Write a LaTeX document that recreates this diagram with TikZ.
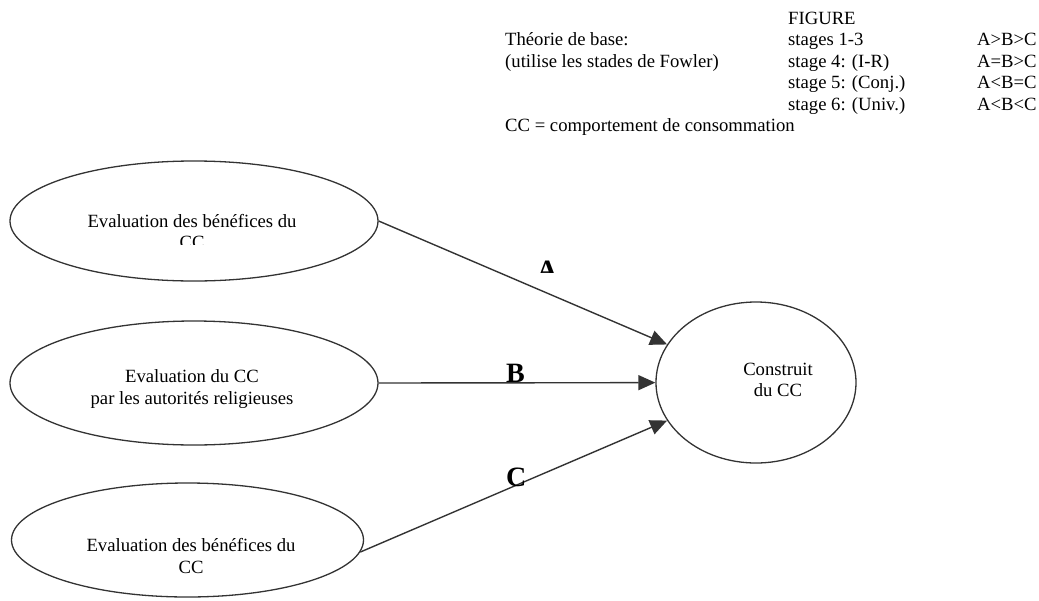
\documentclass[tikz,border=0pt]{standalone}
\usepackage{fontspec}
\setmainfont{Liberation Serif}
\usepackage{xcolor}
\usetikzlibrary{arrows.meta,shapes.geometric}
\definecolor{ink}{HTML}{333333}

\begin{document}
\begin{tikzpicture}[x=1pt, y=-1pt,
  every node/.style={font=\fontsize{18.67}{21.5}\selectfont},
  bub/.style={draw=ink, line width=1.3pt, ellipse, inner sep=0pt},
  tx/.style={align=center, inner sep=0pt},
  hd/.style={anchor=base west, inner sep=0pt},
  lab/.style={anchor=base west, inner sep=0pt, font=\fontsize{28}{30}\selectfont\bfseries},
  ar/.style={draw=ink, line width=1.4pt, -{Triangle[length=17pt, width=15pt]}}]
  \useasboundingbox (0,0) rectangle (1039,600);
  % legend
  \node[hd] (fig) at (788,24) {FIGURE};
  \node[hd] (th) at (505,45.5) {Théorie de base:};
  \node[hd] (fw) at (505,67) {(utilise les stades de Fowler)};
  \node[hd] (s1) at (788,45.5) {stages 1-3};
  \node[hd] (s4) at (788,67) {stage 4: (I-R)};
  \node[hd] (s5) at (788,88.5) {stage 5: (Conj.)};
  \node[hd] (s6) at (788,110) {stage 6: (Univ.)};
  \node[hd] (r1) at (977,45.5) {A>B>C};
  \node[hd] (r4) at (977,67) {A=B>C};
  \node[hd] (r5) at (977,88.5) {A<B=C};
  \node[hd] (r6) at (977,110) {A<B<C};
  \node[hd] (cc) at (505,131.5) {CC = comportement de consommation};
  % ellipses
  \node[bub, minimum width=368, minimum height=120] (e1) at (194,221) {};
  \node[bub, minimum width=368, minimum height=124] (e2) at (194,383) {};
  \node[bub, minimum width=352, minimum height=114] (e3) at (187.5,540) {};
  \node[bub, minimum width=200, minimum height=161] (ce) at (756,382.5) {};
  \begin{scope}
    \clip (0,150) rectangle (400,244);
    \node[tx, anchor=base] (t1) at (192,248.5) {Evaluation des bénéfices du\\CC};
  \end{scope}
  \node[tx] (t2) at (192,389) {Evaluation du CC\\par les autorités religieuses};
  \node[tx] (t3) at (191,556) {Evaluation des bénéfices du\\CC};
  \node[tx] (t4) at (778,380) {Construit\\du CC};
  % paths
  \draw[ar] (e1.east) -- (ce);
  \draw[ar] (e2.east) -- (ce);
  \draw[ar] (e3.-4) -- (ce);
  \begin{scope}
    \clip (520,250) rectangle (580,272);
    \node[lab] (la) at (537,279) {A};
  \end{scope}
  \node[lab] (lb) at (506,382) {B};
  \node[lab] (lc) at (506,486) {C};
\end{tikzpicture}
\end{document}
